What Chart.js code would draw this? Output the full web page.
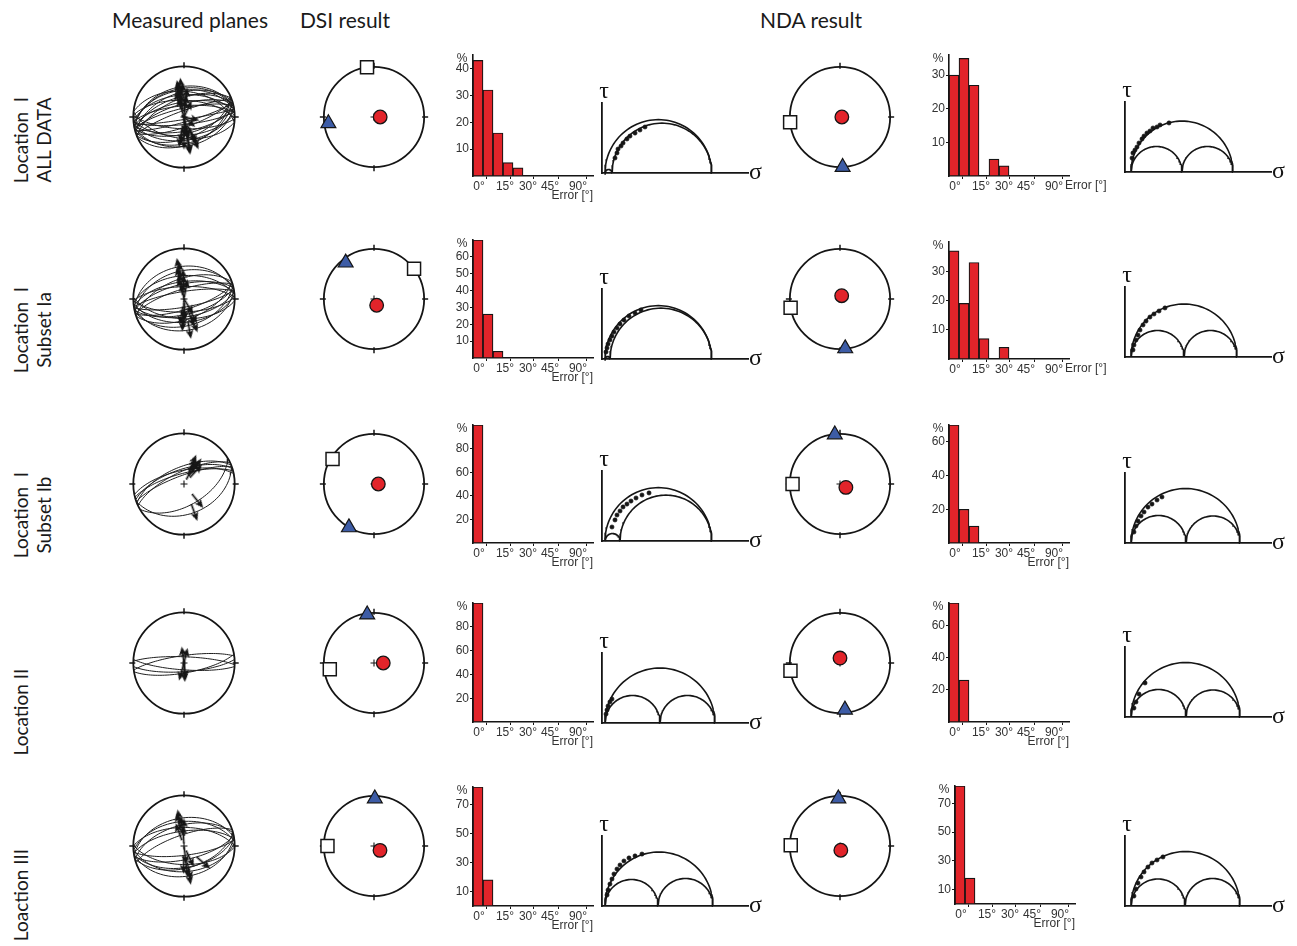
<!DOCTYPE html>
<html>
<head>
<meta charset="utf-8">
<script src="https://cdn.jsdelivr.net/npm/chart.js@4/dist/chart.umd.min.js"></script>
<style>
  html, body { margin: 0; padding: 0; background: #fff; }
  #page { position: relative; width: 1297px; height: 946px; overflow: hidden; background: #fff; }
  #page canvas { position: absolute; }
  .head { position: absolute; top: 7px; font-family: Lato, "Noto Sans", sans-serif; font-size: 21px; color: #1a1a1a; white-space: nowrap; transform: translateX(-50%); }
  .rowlab { position: absolute; font-family: Lato, "Noto Sans", sans-serif; font-size: 19px; color: #1a1a1a; white-space: pre; transform: translate(-50%, -50%) rotate(-90deg); }
</style>
</head>
<body>
<div id="page"></div>
<script>
// ---------------- data ----------------
const columnTitles = ['Measured planes', 'DSI result', 'NDA result'];
const rowTitles = [['Location  I', 'ALL DATA'], ['Location  I', 'Subset Ia'], ['Location  I', 'Subset Ib'], ['Location II'], ['Loaction III']];

// measured fault planes per data set: [dip direction °, dip °, rake of slip lineation °]
const planesAll = [
  [348,40,95],[352,46,88],[342,50,100],[356,54,85],[345,57,92],[338,60,105],[2,63,80],
  [350,66,90],[344,69,98],[355,72,86],[347,76,94],[340,80,100],[6,48,78],[349,43,90],
  [168,42,92],[163,47,85],[172,52,95],[158,56,88],[176,60,80],[166,63,100],[170,67,90],
  [182,71,85],[161,74,95],[174,78,90],[164,82,85],[186,55,92],[156,45,100],[171,86,80]
];
const planesIa = [
  [350,36,90],[345,44,95],[355,52,85],[340,57,100],[352,62,88],[347,66,95],[358,70,85],[343,74,98],[351,78,90],
  [170,38,90],[165,46,85],[175,52,95],[160,57,90],[172,61,80],[167,65,100],[178,69,90],[163,73,95],[170,77,85],[182,58,90]
];
const planesIb = [
  [338,62,115],[342,66,110],[335,70,120],[345,73,105],[340,76,115],[348,68,110],[160,40,90],[150,55,85]
];
const planesII = [
  [352,78,90],[2,80,92],[176,76,95],[184,79,88],[170,74,92]
];
const planesIII = [
  [350,44,90],[355,50,85],[345,56,95],[0,60,90],[352,66,85],[341,72,95],
  [170,40,90],[176,48,85],[165,54,95],[181,60,90],[168,68,85],[173,75,90],[170,55,65]
];
const measuredPlanes = [planesAll, planesIa, planesIb, planesII, planesIII];

// principal stress axes [trend °, plunge °]
const dsiSigma1 = [[90,80],[157,79],[90,83],[90,75],[126,78]];
const dsiSigma2 = [[262,9],[322,9],[210,0],[352,3],[1,6]];
const dsiSigma3 = [[352,0],[53,0],[301,4],[262,12],[270,8]];
const ndaSigma1 = [[90,87],[27,84],[120,79],[0,82],[169,83]];
const ndaSigma2 = [[177,0],[174,1],[354,1],[174,7],[358,6]];
const ndaSigma3 = [[264,0],[260,0],[270,6],[261,0],[271,2]];

// misfit histograms: percentage of faults per error bin
const errorTickLabels = ['0°', '15°', '30°', '45°', '90°'];
const errorTickAt = [0, 2.6, 4.9, 7.1, 9.9];
const dsiErrorPct = [[43,32,16,5,3],[70,26,4],[100],[100],[82,18]];
const ndaErrorPct = [[30,35,27,0,5,3],[37,19,33,7,0,4],[70,20,10],[74,26],[82,18]];
const dsiPctTicks = [[10,20,30,40],[10,20,30,40,50,60],[20,40,60,80],[20,40,60,80],[10,30,50,70]];
const ndaPctTicks = [[10,20,30],[10,20,30],[20,40,60],[20,40,60],[10,30,50,70]];
const dsiPctMax = [45,70,100,100,82];
const ndaPctMax = [36,40,70,74,82];

// Mohr diagrams: normalised principal stresses [σ1, σ2, σ3] and fault stress states [σn, τ]
const dsiMohrSigma = [[1.09,0.10,0.03],[1.09,0.08,0.03],[1.09,0.179,0.03],[1.122,0.576,0.03],[1.102,0.556,0.03]];
const ndaMohrSigma = [[1.072,0.566,0.06],[1.112,0.586,0.06],[1.142,0.606,0.06],[1.142,0.606,0.06],[1.142,0.596,0.06]];
const dsiMohrPts = [
  [[0.129,0.149],[0.149,0.199],[0.159,0.238],[0.189,0.268],[0.209,0.298],[0.248,0.338],[0.278,0.367],[0.328,0.397],[0.377,0.427],[0.427,0.457]],
  [[0.040,0.070],[0.050,0.109],[0.060,0.149],[0.079,0.189],[0.099,0.228],[0.119,0.268],[0.149,0.308],[0.179,0.348],[0.218,0.387],[0.268,0.427],[0.328,0.457],[0.387,0.487]],
  [[0.099,0.139],[0.129,0.209],[0.149,0.258],[0.179,0.298],[0.209,0.338],[0.248,0.367],[0.288,0.397],[0.338,0.427],[0.397,0.457],[0.467,0.477]],
  [[0.040,0.089],[0.050,0.129],[0.060,0.169],[0.079,0.209],[0.099,0.238]],
  [[0.050,0.109],[0.060,0.159],[0.079,0.218],[0.099,0.268],[0.119,0.318],[0.149,0.367],[0.179,0.407],[0.218,0.447],[0.268,0.477],[0.328,0.497],[0.397,0.516]]
];
const ndaMohrPts = [
  [[0.070,0.139],[0.079,0.189],[0.099,0.218],[0.119,0.248],[0.139,0.288],[0.169,0.328],[0.189,0.357],[0.218,0.387],[0.248,0.407],[0.278,0.437],[0.318,0.447],[0.348,0.467],[0.437,0.487]],
  [[0.079,0.070],[0.089,0.119],[0.109,0.169],[0.129,0.218],[0.149,0.268],[0.179,0.318],[0.209,0.357],[0.248,0.397],[0.288,0.427],[0.338,0.457],[0.397,0.487]],
  [[0.089,0.109],[0.109,0.169],[0.129,0.218],[0.159,0.268],[0.189,0.308],[0.228,0.357],[0.268,0.387],[0.318,0.427],[0.367,0.457]],
  [[0.089,0.089],[0.109,0.149],[0.139,0.228],[0.199,0.338]],
  [[0.089,0.099],[0.109,0.169],[0.129,0.228],[0.159,0.288],[0.189,0.338],[0.228,0.387],[0.268,0.427],[0.318,0.457],[0.377,0.487]]
];

// ---------------- layout & style ----------------
const SANS = '"Liberation Sans", Arial, sans-serif';
const SERIF = '"Liberation Serif", "DejaVu Serif", serif';
const RED = '#e2242a';
const BLUE = '#3d5ca6';
const INK = '#151515';
const NET_X = { measured: 184, dsi: 374, nda: 840 };
const NET_Y = [117, 299, 484, 663, 846];
const NET_SIZE = 150, NET_RANGE = 1.282;
const HIST_DSI = { x: [473,473,473,473,473], base: [176,358,543,722,906], top: [55,240,425,603,787] };
const HIST_NDA = { x: [949,949,949,949,955], base: [176,359,543,722,904], top: [55,242,425,603,786] };
const NDA_ERR_MODE = ['inline','inline','below','below','below'];
const ERROR_BINS = 12;
const MOHR_DSI = { x: 602, base: [173,359,541,723,906] };
const MOHR_NDA = { x: 1125, base: [172,357,543,717,906] };
const MOHR_W = 146, MOHR_H = 70, MOHR_SPAN = 1.45;
const HEAD_X = [190, 345, 811];
const ROW_LABEL_Y = [140, 330, 515, 712, 895];

Chart.defaults.animation = false;
Chart.defaults.responsive = false;
Chart.defaults.events = [];
Chart.defaults.plugins.legend.display = false;
Chart.defaults.plugins.tooltip.enabled = false;

const page = document.getElementById('page');

function addCanvas(left, top, w, h) {
  const c = document.createElement('canvas');
  c.width = w; c.height = h;
  c.style.left = left + 'px'; c.style.top = top + 'px';
  c.style.width = w + 'px'; c.style.height = h + 'px';
  page.appendChild(c);
  return c;
}

// ---------------- equal-area (lower hemisphere) projection helpers ----------------
const D2R = Math.PI / 180;
function project(trend, plunge) {
  const r = Math.SQRT2 * Math.sin((90 - plunge) * D2R / 2);
  return { x: r * Math.sin(trend * D2R), y: r * Math.cos(trend * D2R) };
}
function lineInPlane(dd, dip, rake) {
  const s = (dd - 90) * D2R, d = dd * D2R, p = dip * D2R, r = rake * D2R;
  const sv = [Math.sin(s), Math.cos(s), 0];
  const dv = [Math.sin(d) * Math.cos(p), Math.cos(d) * Math.cos(p), Math.sin(p)];
  const v = sv.map((c, i) => Math.cos(r) * c + Math.sin(r) * dv[i]);
  return { trend: Math.atan2(v[0], v[1]) / D2R, plunge: Math.asin(Math.max(-1, Math.min(1, v[2]))) / D2R };
}
// trace of a plane: every line lying in it, pitch 0..180°
function greatCircle(dd, dip) {
  const pts = [];
  for (let a = 0; a <= 180; a += 4) {
    const l = lineInPlane(dd, dip, a);
    pts.push(project(l.trend, l.plunge));
  }
  return pts;
}
// upper half of a Mohr circle between two principal stresses
function mohrArc(a, b) {
  const c = (a + b) / 2, r = Math.abs(a - b) / 2, pts = [];
  for (let t = 0; t <= 180; t += 3) pts.push({ x: c + r * Math.cos(t * D2R), y: r * Math.sin(t * D2R) });
  return pts;
}

// slip arrow glyph (points north before rotation)
const arrowGlyph = (() => {
  const c = document.createElement('canvas');
  c.width = 9; c.height = 18;
  const g = c.getContext('2d');
  g.strokeStyle = INK; g.fillStyle = INK; g.lineWidth = 1.7;
  g.beginPath(); g.moveTo(4.5, 18); g.lineTo(4.5, 5); g.stroke();
  g.beginPath(); g.moveTo(4.5, 0); g.lineTo(8.5, 9); g.lineTo(4.5, 6.5); g.lineTo(0.5, 9); g.closePath(); g.fill();
  return c;
})();

// primitive circle, N/E/S/W ticks and centre cross
const netFrame = {
  id: 'netFrame',
  beforeDatasetsDraw(chart) {
    const { ctx, scales: { x, y } } = chart;
    const cx = x.getPixelForValue(0), cy = y.getPixelForValue(0);
    const R = x.getPixelForValue(1) - cx;
    ctx.save();
    ctx.strokeStyle = INK;
    ctx.lineWidth = 1.8;
    ctx.beginPath(); ctx.arc(cx, cy, R, 0, Math.PI * 2); ctx.stroke();
    ctx.lineWidth = 1.5;
    [[0,-1],[1,0],[0,1],[-1,0]].forEach(([dx, dy]) => {
      ctx.beginPath();
      ctx.moveTo(cx + dx * (R - 2), cy + dy * (R - 2));
      ctx.lineTo(cx + dx * (R + 4), cy + dy * (R + 4));
      ctx.stroke();
    });
    ctx.lineWidth = 1.1;
    ctx.beginPath();
    ctx.moveTo(cx - 3.5, cy); ctx.lineTo(cx + 3.5, cy);
    ctx.moveTo(cx, cy - 3.5); ctx.lineTo(cx, cy + 3.5);
    ctx.stroke();
    ctx.restore();
  }
};

function netChart(cx, cy, datasets) {
  const c = addCanvas(cx - NET_SIZE / 2, cy - NET_SIZE / 2, NET_SIZE, NET_SIZE);
  new Chart(c, {
    type: 'scatter',
    data: { datasets },
    options: {
      devicePixelRatio: 1,
      layout: { padding: 0 },
      scales: {
        x: { type: 'linear', min: -NET_RANGE, max: NET_RANGE, display: false },
        y: { type: 'linear', min: -NET_RANGE, max: NET_RANGE, display: false }
      }
    },
    plugins: [netFrame]
  });
}

function planeDatasets(planes) {
  const ds = planes.map(([dd, dip]) => ({
    type: 'scatter', showLine: true, data: greatCircle(dd, dip),
    borderColor: '#1e1e1e', borderWidth: 1.0, pointRadius: 0, order: 2
  }));
  ds.push({
    type: 'scatter',
    data: planes.map(([dd, dip, rake]) => {
      const l = lineInPlane(dd, dip, rake);
      return Object.assign(project(l.trend, l.plunge), { rot: l.trend });
    }),
    pointStyle: arrowGlyph,
    pointRotation: ctx => (ctx.raw ? ctx.raw.rot : 0),
    pointRadius: 9, order: 1
  });
  return ds;
}

function stressDatasets(s1, s2, s3) {
  return [
    { data: [project(s1[0], s1[1])], pointStyle: 'circle', pointRadius: 6.8,
      pointBackgroundColor: RED, pointBorderColor: INK, pointBorderWidth: 1.3, order: 0 },
    { data: [project(s2[0], s2[1])], pointStyle: 'triangle', pointRadius: 8.6,
      pointBackgroundColor: BLUE, pointBorderColor: INK, pointBorderWidth: 1.2, order: 1 },
    { data: [project(s3[0], s3[1])], pointStyle: 'rect', pointRadius: 9.2,
      pointBackgroundColor: '#fff', pointBorderColor: INK, pointBorderWidth: 1.5, order: 2 }
  ];
}

// ---------------- histograms ----------------
function histText(mode) {
  return {
    id: 'histText',
    afterDraw(chart) {
      const { ctx, chartArea: a } = chart;
      ctx.save();
      ctx.fillStyle = '#333';
      ctx.font = '12px ' + SANS;
      ctx.textAlign = 'center'; ctx.textBaseline = 'middle';
      ctx.fillText('%', a.left - 11, a.top + 4);
      if (mode === 'inline') {
        ctx.textAlign = 'left';
        ctx.fillText('Error [°]', a.right - 4, a.bottom + 10);
      } else {
        ctx.textAlign = 'right';
        ctx.fillText('Error [°]', a.right, a.bottom + 20);
      }
      ctx.restore();
    }
  };
}

function histChart(axisX, baseline, axisTop, pct, pctTicks, pctMax, mode) {
  const H = baseline - axisTop;
  const c = addCanvas(axisX - 34, axisTop - 16, 34 + 120 + 60, H + 16 + 34);
  const bins = [];
  for (let i = 0; i < ERROR_BINS; i++) bins.push({ x: i + 0.5, y: pct[i] || 0 });
  const tickFont = { family: SANS, size: 12 };
  new Chart(c, {
    type: 'bar',
    data: { datasets: [{
      data: bins, backgroundColor: RED, borderColor: INK, borderWidth: 1.2,
      borderSkipped: false, barPercentage: 1, categoryPercentage: 1
    }] },
    options: {
      devicePixelRatio: 1,
      layout: { padding: { top: 16, right: 60, left: 0, bottom: 0 } },
      scales: {
        x: {
          type: 'linear', min: 0, max: ERROR_BINS, offset: false,
          afterBuildTicks: s => { s.ticks = errorTickAt.map(v => ({ value: v })); },
          afterFit: s => { s.height = 34; s.paddingLeft = 0; s.paddingRight = 0; },
          ticks: { callback: (v, i) => errorTickLabels[i], autoSkip: false, maxRotation: 0,
                   labelOffset: 6, padding: 0, color: '#333', font: tickFont },
          grid: { drawOnChartArea: false, tickLength: 3, color: INK },
          border: { color: INK, width: 1.6 }
        },
        y: {
          type: 'linear', min: 0, max: pctMax,
          afterBuildTicks: s => { s.ticks = pctTicks.map(v => ({ value: v })); },
          afterFit: s => { s.width = 34; s.paddingTop = 0; s.paddingBottom = 0; },
          ticks: { padding: 1, color: '#333', font: tickFont },
          grid: { drawOnChartArea: false, tickLength: 3, color: INK },
          border: { color: INK, width: 1.6 }
        }
      }
    },
    plugins: [histText(mode)]
  });
}

// ---------------- Mohr diagrams ----------------
const mohrText = {
  id: 'mohrText',
  afterDraw(chart) {
    const { ctx, chartArea: a } = chart;
    ctx.save();
    ctx.fillStyle = INK;
    ctx.font = '24px ' + SERIF;
    ctx.textBaseline = 'alphabetic';
    ctx.textAlign = 'center';
    ctx.fillText('τ', a.left + 2, a.top - 5);
    ctx.textAlign = 'left';
    ctx.fillText('σ', a.right + 1, a.bottom + 6);
    ctx.restore();
  }
};

function mohrChart(axisX, baseline, sig, pts) {
  const c = addCanvas(axisX - 20, baseline - MOHR_H - 28, 20 + MOHR_W + 34, MOHR_H + 28 + 8);
  const [s1, s2, s3] = sig;
  const arcs = [[s1, s3], [s2, s3], [s1, s2]].map(([a, b]) => ({
    type: 'scatter', showLine: true, data: mohrArc(a, b),
    borderColor: INK, borderWidth: 1.6, pointRadius: 0, clip: 2, order: 1
  }));
  new Chart(c, {
    type: 'scatter',
    data: { datasets: [
      { data: pts.map(([x, y]) => ({ x, y })), pointRadius: 2.1,
        pointBackgroundColor: INK, pointBorderColor: INK, pointBorderWidth: 0.6, order: 0 },
      ...arcs
    ] },
    options: {
      devicePixelRatio: 1,
      layout: { padding: { left: 20, top: 28, right: 34, bottom: 8 } },
      scales: {
        x: { type: 'linear', min: 0, max: MOHR_SPAN,
             afterFit: s => { s.height = 0; s.paddingLeft = 0; s.paddingRight = 0; },
             ticks: { display: false }, grid: { drawOnChartArea: false, drawTicks: false },
             border: { color: INK, width: 1.8 } },
        y: { type: 'linear', min: 0, max: MOHR_SPAN * MOHR_H / MOHR_W,
             afterFit: s => { s.width = 0; s.paddingTop = 0; s.paddingBottom = 0; },
             ticks: { display: false }, grid: { drawOnChartArea: false, drawTicks: false },
             border: { color: INK, width: 1.8 } }
      }
    },
    plugins: [mohrText]
  });
}

// ---------------- text ----------------
columnTitles.forEach((t, i) => {
  const d = document.createElement('div');
  d.className = 'head'; d.textContent = t; d.style.left = HEAD_X[i] + 'px';
  page.appendChild(d);
});
rowTitles.forEach((lines, r) => {
  lines.forEach((t, k) => {
    const d = document.createElement('div');
    d.className = 'rowlab'; d.textContent = t;
    d.style.left = (20 + 23 * k) + 'px'; d.style.top = ROW_LABEL_Y[r] + 'px';
    page.appendChild(d);
  });
});

// ---------------- build the grid ----------------
for (let r = 0; r < 5; r++) {
  netChart(NET_X.measured, NET_Y[r], planeDatasets(measuredPlanes[r]));
  netChart(NET_X.dsi, NET_Y[r], stressDatasets(dsiSigma1[r], dsiSigma2[r], dsiSigma3[r]));
  netChart(NET_X.nda, NET_Y[r], stressDatasets(ndaSigma1[r], ndaSigma2[r], ndaSigma3[r]));
  histChart(HIST_DSI.x[r], HIST_DSI.base[r], HIST_DSI.top[r], dsiErrorPct[r], dsiPctTicks[r], dsiPctMax[r], 'below');
  histChart(HIST_NDA.x[r], HIST_NDA.base[r], HIST_NDA.top[r], ndaErrorPct[r], ndaPctTicks[r], ndaPctMax[r], NDA_ERR_MODE[r]);
  mohrChart(MOHR_DSI.x, MOHR_DSI.base[r], dsiMohrSigma[r], dsiMohrPts[r]);
  mohrChart(MOHR_NDA.x, MOHR_NDA.base[r], ndaMohrSigma[r], ndaMohrPts[r]);
}
</script>
</body>
</html>
